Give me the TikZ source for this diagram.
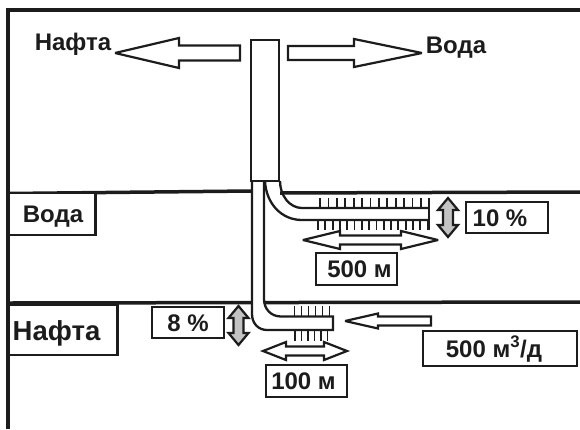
\documentclass[tikz,border=0pt]{standalone}
\usepackage{fontspec}
\setmainfont{Liberation Sans}
\definecolor{inkblack}{RGB}{28,28,28}
\definecolor{arrowgrey}{RGB}{195,195,195}
\newcommand{\onearrow}[7][arrowline]{%
  \draw[#1] (#2,#4-#7) -- ({#3-#5},#4-#7) -- ({#3-#5},#4-#6) -- (#3,#4)
    -- ({#3-#5},#4+#6) -- ({#3-#5},#4+#7) -- (#2,#4+#7) -- cycle;}
\newcommand{\twoarrow}[6]{%
  \draw[arrowline] (#1,#3) -- ({#1+#4},#3-#5) -- ({#1+#4},#3-#6) -- ({#2-#4},#3-#6)
    -- ({#2-#4},#3-#5) -- (#2,#3) -- ({#2-#4},#3+#5) -- ({#2-#4},#3+#6)
    -- ({#1+#4},#3+#6) -- ({#1+#4},#3+#5) -- cycle;}
\newcommand{\greyarrow}[3]{%
  \draw[arrowline,fill=arrowgrey] (#1,#2) -- (#1+10,#2+12) -- (#1+5,#2+12) -- (#1+5,#3-12)
    -- (#1+10,#3-12) -- (#1,#3) -- (#1-10,#3-12) -- (#1-5,#3-12) -- (#1-5,#2+12)
    -- (#1-10,#2+12) -- cycle;}
\begin{document}
\begin{tikzpicture}[x=1pt,y=-1pt]

%
% Styles
%
\tikzstyle{stratum}   = [line width=3.5pt,draw=inkblack]
\tikzstyle{pipe}      = [line width=2.3pt,draw=inkblack]
\tikzstyle{pipefill}  = [fill=white,draw=none]
\tikzstyle{slot}      = [line width=1.8pt,draw=inkblack]
\tikzstyle{arrowline} = [line width=2.2pt,draw=inkblack,fill=white,miter limit=4]
\tikzstyle{tag}       = [draw=inkblack,line width=2.2pt,fill=white,inner sep=0pt,text=inkblack,
                         text height=17pt,text depth=0pt,font=\fontsize{24}{28}\selectfont\bfseries]
\tikzstyle{word}      = [inner sep=0pt,text=inkblack,text height=17pt,text depth=0pt,
                         font=\fontsize{24}{28}\selectfont\bfseries]

\useasboundingbox (0,0) rectangle (580,429);

% frame and strata
\draw[stratum] (8,429) -- (8,10) -- (580,10);
\draw[stratum] (8,193.5) -- (251,191);
\draw[stratum] (280,193) -- (580,192);
\draw[stratum] (8,303) -- (580,302);

% slots
\foreach \x in {320,328.4,...,429} \draw[slot] (\x,198) -- (\x,208);
\foreach \x in {318,325.3,...,428} \draw[slot] (\x,220) -- (\x,230);
\foreach \x in {294.5,301.5,...,330} \draw[slot] (\x,306) -- (\x,316);
\foreach \x in {295,301.5,...,330} \draw[slot] (\x,330) -- (\x,341);

% lower lateral
\fill[pipefill] (252,181) -- (252,314) .. controls (252,323) and (258,330) .. (267,330)
  -- (333,330) -- (333,316.5) -- (281,316.5) .. controls (271,316.5) and (264,309) .. (264,299)
  -- (264,181) -- cycle;
\draw[pipe] (252,181) -- (252,314) .. controls (252,323) and (258,330) .. (267,330)
  -- (333,330) -- (333,316.5) -- (281,316.5) .. controls (271,316.5) and (264,309) .. (264,299)
  -- (264,181);

% upper lateral
\draw[pipe] (265,181) .. controls (266,203) and (281,220) .. (302,220) -- (429,220);
\draw[pipe] (280,181) .. controls (280,196) and (290,208) .. (302,208) -- (429,208);
\draw[pipe] (429,198) -- (429,230);

% well
\node[draw=inkblack,line width=2.3pt,fill=white,minimum width=28pt,minimum height=141pt,
  inner sep=0pt] (well) at (265,110.5) {};

% arrows
\onearrow{240}{115}{53}{-64}{15}{7.5}
\onearrow{288}{422}{53}{68}{14}{7}
\onearrow{431}{345}{321}{-33}{7.5}{4.5}
\twoarrow{303}{438}{240}{37}{9}{4.5}
\twoarrow{263}{347}{351}{23}{9}{4.5}
\greyarrow{448}{198}{237}
\greyarrow{238.5}{306}{345}

% labels
\node[word] (oil)   at (73,42)  {Нафта};
\node[word] (water) at (456,45) {Вода};

\node[tag,minimum width=87pt,minimum height=42pt]  (watertag) at (52,214)    {\hspace*{2pt}Вода};
\node[tag,minimum width=109pt,minimum height=50pt,text height=20pt,
  font=\fontsize{27.5}{30}\selectfont\bfseries]    (oiltag)   at (63,330)    {\hspace*{-13pt}Нафта};
\node[tag,minimum width=72pt,minimum height=31pt]  (lowcut)   at (188,322.5) {8 \%};
\node[tag,minimum width=82pt,minimum height=31pt]  (upcut)    at (507,217.5) {\hspace*{-14pt}10 \%};
\node[tag,minimum width=81pt,minimum height=32pt]  (uplen)    at (356.5,269) {\hspace*{6pt}500 м};
\node[tag,minimum width=81pt,minimum height=32pt]  (lowlen)   at (306.5,381) {\hspace*{-6pt}100 м};
\node[tag,minimum width=154pt,minimum height=35pt] (rate)     at (500,348.5) {\hspace*{-12pt}500 м\textsuperscript{3}/д};

\end{tikzpicture}
\end{document}
